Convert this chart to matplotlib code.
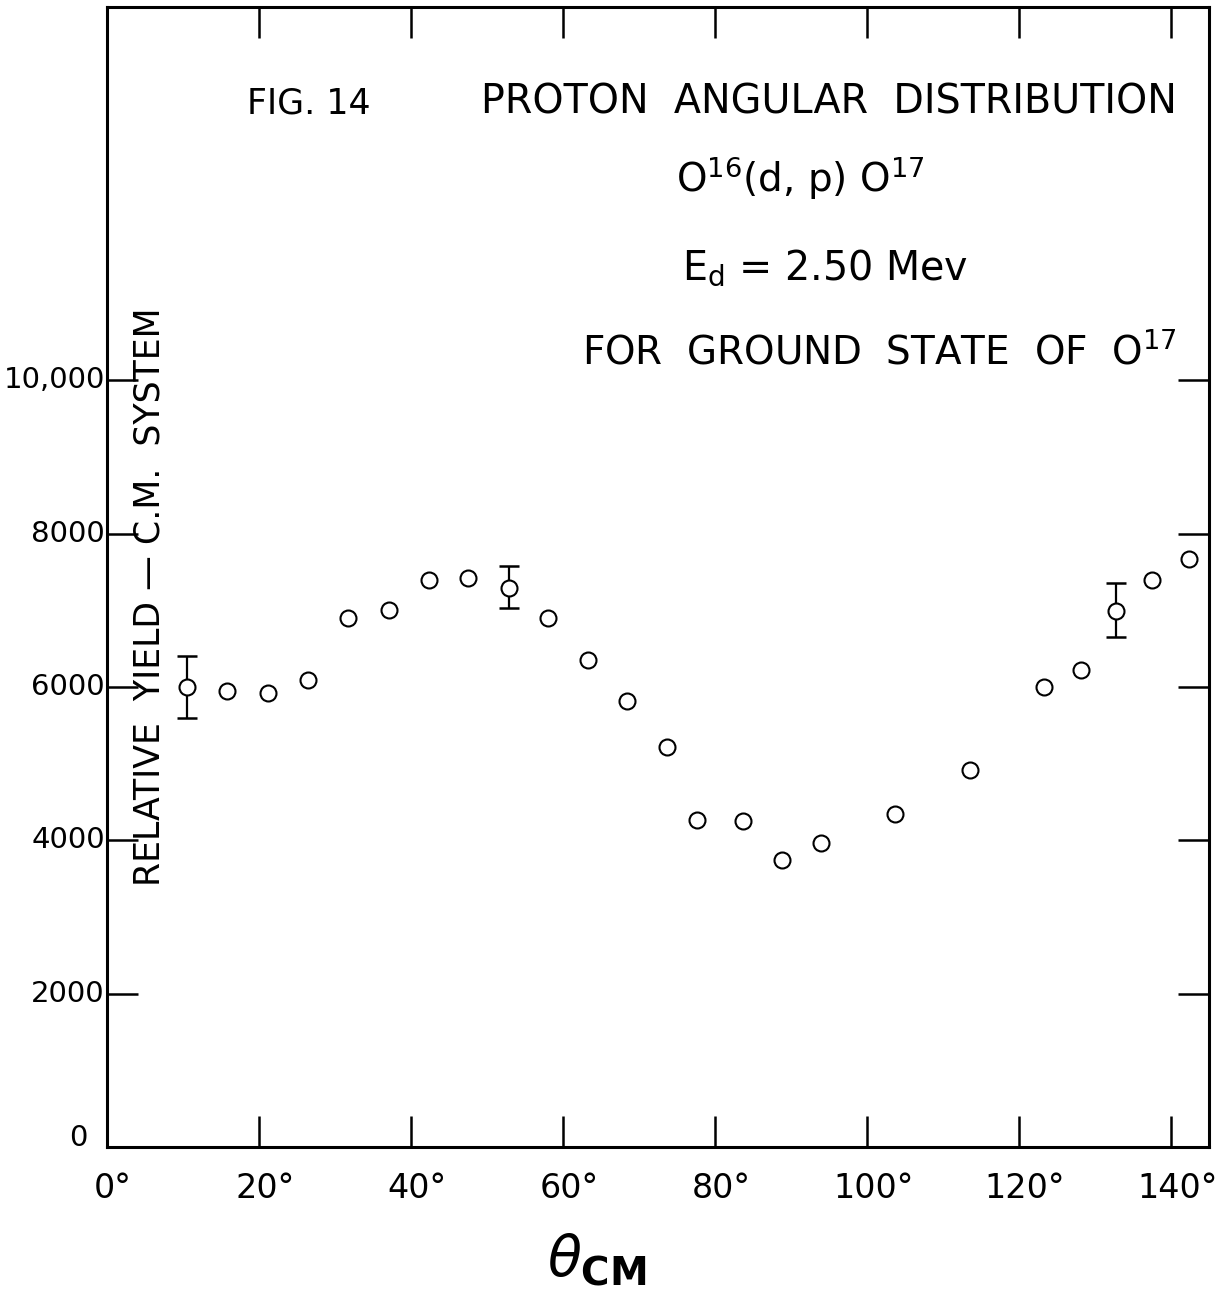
import matplotlib
matplotlib.use("Agg")
import matplotlib.pyplot as plt
import numpy as np

plt.rcParams['font.family'] = ['DejaVu Sans']
plt.rcParams['mathtext.default'] = 'regular'

# angle (deg, CM) and relative yield
theta = [10.5, 15.8, 21.2, 26.4, 31.7, 37.1, 42.4, 47.5, 52.9, 58.0, 63.3, 68.4,
         73.7, 77.6, 83.7, 88.8, 94.0, 103.7, 113.6, 123.3, 128.2, 132.8, 137.5, 142.4]
yld = [6000, 5950, 5920, 6090, 6900, 7000, 7400, 7420, 7290, 6900, 6350, 5820,
       5215, 4260, 4250, 3740, 3960, 4350, 4915, 6000, 6220, 6990, 7400, 7670]

# points that carry error bars: angle, value, lower, upper
err_theta = [10.5, 52.9, 132.8]
err_val = [6000, 7290, 6990]
err_lo = [5600, 7030, 6650]
err_hi = [6400, 7580, 7360]

xticks = [0, 20, 40, 60, 80, 100, 120, 140]
xlabels = ['0°', '20°', '40°', '60°', '80°', '100°', '120°', '140°']
yticks = [0, 2000, 4000, 6000, 8000, 10000]
ylabels = ['0', '2000', '4000', '6000', '8000', '10,000']

W, H = 1221, 1293
fig = plt.figure(figsize=(W / 100, H / 100), dpi=100)
ax = fig.add_axes([107 / W, 1 - 1147 / H, (1209 - 107) / W, (1147 - 7) / H])

ax.errorbar(err_theta, err_val,
            yerr=[np.array(err_val) - np.array(err_lo), np.array(err_hi) - np.array(err_val)],
            fmt='none', ecolor='black', elinewidth=1.6, capsize=7, capthick=1.8)
ax.plot(theta, yld, 'o', ms=11.5, mfc='white', mec='black', mew=1.5, zorder=3)

ax.set_xlim(0, 145)
ax.set_ylim(0, 14870)
for s in ax.spines.values():
    s.set_linewidth(2.2)

ax.set_xticks(xticks[1:])
ax.set_xticklabels([])
ax.set_yticks(yticks[1:])
ax.set_yticklabels([])
ax.tick_params(direction='in', length=22, width=1.8, top=True, right=True,
               labelbottom=False, labelleft=False)

# tick labels drawn as text so 0 sits at the corner like the original
for x, lab in zip(xticks, xlabels):
    ax.text(x + 0.8, -0.022, lab, transform=ax.get_xaxis_transform(),
            ha='center', va='top', fontsize=24)
for y, lab in zip(yticks, ylabels):
    ax.text(-0.002 if y else -0.018, y + (120 if y == 0 else 0), lab,
            transform=ax.get_yaxis_transform(), ha='right', va='center', fontsize=21)

ax.text(150 / W, 1 - 597 / H, 'RELATIVE  YIELD — C.M.  SYSTEM', transform=fig.transFigure,
        rotation=90, ha='center', va='center', fontsize=25)

fig.text(247 / W, 1 - 103 / H, 'FIG. 14', ha='left', va='center', fontsize=25)
fig.text(829 / W, 1 - 103 / H, 'PROTON  ANGULAR  DISTRIBUTION', ha='center', va='center', fontsize=28.5)
fig.text(800 / W, 1 - 178 / H, r'O$^{16}$(d, p) O$^{17}$', ha='center', va='center', fontsize=28)
fig.text(825 / W, 1 - 268 / H, r'E$_d$ = 2.50 Mev', ha='center', va='center', fontsize=28.5)
fig.text(879 / W, 1 - 352 / H, r'FOR  GROUND  STATE  OF  O$^{17}$', ha='center', va='center', fontsize=28)

fig.text(597 / W, 1 - 1260 / H, r'$\mathit{\theta}_{\mathbf{CM}}$', ha='center', va='center',
         fontsize=40, math_fontfamily='dejavusans')

fig.savefig('out.png', dpi=100, facecolor='white')
